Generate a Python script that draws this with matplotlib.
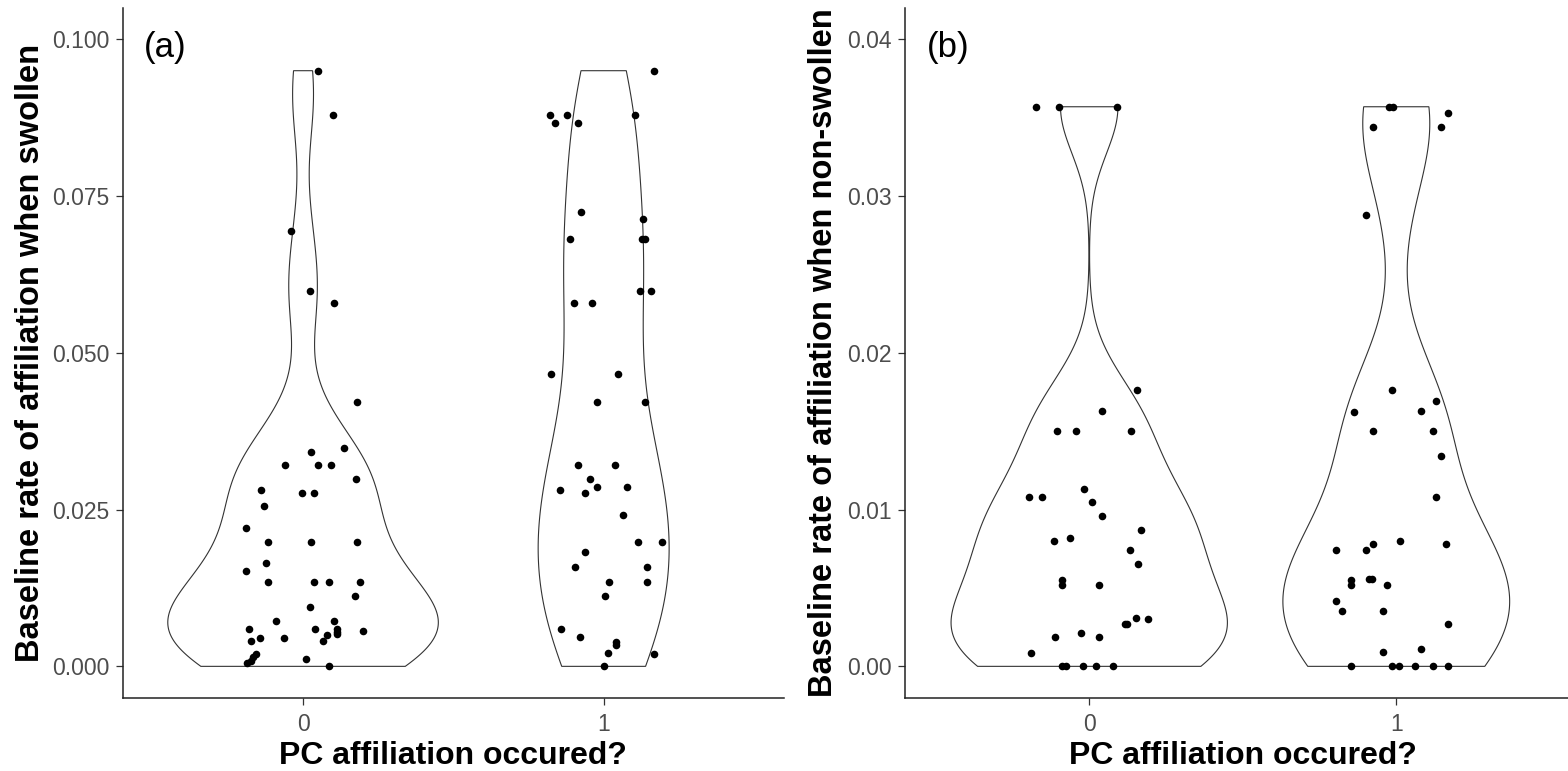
import matplotlib
matplotlib.use("Agg")
import matplotlib.pyplot as plt
import numpy as np

plt.rcParams['font.family'] = ['Liberation Sans', 'DejaVu Sans']

# categories on the x axis
groups = ['0', '1']

# (a) swollen: baseline rate values and the horizontal jitter of each dot
swollen_0 = [0.0950, 0.0880, 0.0695, 0.0599, 0.0579, 0.0421, 0.0349, 0.0342, 0.0321, 0.0321,
             0.0321, 0.0299, 0.0282, 0.0277, 0.0277, 0.0256, 0.0221, 0.0199, 0.0199, 0.0199,
             0.0165, 0.0152, 0.0134, 0.0134, 0.0134, 0.0134, 0.0112, 0.0095, 0.0073, 0.0073,
             0.0060, 0.0060, 0.0060, 0.0054, 0.0051, 0.0056, 0.0045, 0.0045, 0.0050, 0.0041,
             0.0041, 0.0019, 0.0015, 0.0008, 0.0006, 0.0011, 0.0000]
swollen_0_jit = [0.051, 0.099, -0.041, 0.022, 0.104, 0.180, 0.135, 0.028, -0.059, 0.051,
                 0.094, 0.176, -0.140, -0.004, 0.036, -0.131, -0.189, -0.117, 0.028, 0.180,
                 -0.122, -0.189, -0.117, 0.036, 0.085, 0.189, 0.172, 0.022, -0.091, 0.104,
                 -0.180, 0.041, 0.112, 0.114, 0.114, 0.199, -0.144, -0.063, 0.081, -0.172,
                 0.067, -0.158, -0.167, -0.172, -0.185, 0.009, 0.085]
swollen_1 = [0.0950, 0.0880, 0.0880, 0.0880, 0.0867, 0.0867, 0.0725, 0.0714, 0.0682, 0.0682,
             0.0682, 0.0599, 0.0599, 0.0579, 0.0579, 0.0466, 0.0466, 0.0421, 0.0421, 0.0321,
             0.0321, 0.0299, 0.0282, 0.0286, 0.0286, 0.0277, 0.0241, 0.0199, 0.0199, 0.0182,
             0.0158, 0.0158, 0.0134, 0.0134, 0.0112, 0.0060, 0.0047, 0.0039, 0.0034, 0.0021,
             0.0019, 0.0000]
swollen_1_jit = [0.168, -0.179, -0.122, 0.104, -0.161, -0.085, -0.076, 0.131, -0.113, 0.126,
                 0.138, 0.122, 0.158, -0.098, -0.040, -0.175, 0.047, -0.021, 0.136, -0.085,
                 0.037, -0.044, -0.144, -0.021, 0.079, -0.063, 0.063, 0.113, 0.195, -0.063,
                 -0.094, 0.145, 0.019, 0.145, 0.006, -0.143, -0.080, 0.041, 0.041, 0.015,
                 0.168, 0.001]

# (b) non-swollen
nonswollen_0 = [0.0357, 0.0357, 0.0357, 0.0176, 0.0163, 0.0150, 0.0150, 0.0150, 0.0113, 0.0108,
                0.0108, 0.0105, 0.0096, 0.0087, 0.0082, 0.0080, 0.0074, 0.0065, 0.0055, 0.0052,
                0.0052, 0.0031, 0.0030, 0.0027, 0.0027, 0.0021, 0.0019, 0.0019, 0.00085, 0.0,
                0.0, 0.0, 0.0, 0.0]
nonswollen_0_jit = [-0.173, -0.098, 0.090, 0.155, 0.040, -0.106, -0.044, 0.137, -0.018, -0.195,
                    -0.154, 0.009, 0.040, 0.167, -0.062, -0.115, 0.133, 0.160, -0.089, -0.089,
                    0.032, 0.151, 0.190, 0.115, 0.124, -0.027, -0.111, 0.032, -0.190, -0.089,
                    -0.076, -0.021, 0.022, 0.079]
nonswollen_1 = [0.0357, 0.0357, 0.0353, 0.0344, 0.0344, 0.0288, 0.0176, 0.0169, 0.0162, 0.0163,
                0.0150, 0.0150, 0.0134, 0.0108, 0.0074, 0.0074, 0.0078, 0.0080, 0.0078, 0.0055,
                0.0052, 0.0056, 0.0056, 0.0052, 0.0042, 0.0035, 0.0035, 0.0027, 0.0011, 0.0009,
                0.0, 0.0, 0.0, 0.0, 0.0, 0.0]
nonswollen_1_jit = [-0.024, -0.011, 0.167, -0.076, 0.146, -0.098, -0.014, 0.128, -0.138, 0.079,
                    -0.076, 0.120, 0.146, 0.128, -0.195, -0.098, -0.076, 0.012, 0.163, -0.147,
                    -0.147, -0.089, -0.080, -0.031, -0.195, -0.177, -0.044, 0.167, 0.079, -0.044,
                    -0.147, -0.014, 0.009, 0.062, 0.120, 0.167]

ticks_a = [0, 0.025, 0.05, 0.075, 0.1]
ticklabels_a = ['0.000', '0.025', '0.050', '0.075', '0.100']
ticks_b = [0, 0.01, 0.02, 0.03, 0.04]
ticklabels_b = ['0.00', '0.01', '0.02', '0.03', '0.04']


def kde(vals, n=512):
    # gaussian density with R's bw.nrd0, trimmed to the data range
    v = np.asarray(vals, dtype=float)
    sd = v.std(ddof=1)
    q75, q25 = np.percentile(v, [75, 25])
    bw = 0.9 * min(sd, (q75 - q25) / 1.34) * len(v) ** -0.2
    grid = np.linspace(v.min(), v.max(), n)
    z = (grid[:, None] - v[None, :]) / bw
    dens = np.exp(-0.5 * z ** 2).sum(axis=1) / (len(v) * bw * np.sqrt(2 * np.pi))
    return grid, dens


def panel(ax, data, jitters, ticks, ticklabels, ylabel, tag, ylab_x):
    profiles = [kde(d) for d in data]
    dmax = max(p[1].max() for p in profiles)
    for pos, (grid, dens) in enumerate(profiles):
        half = 0.45 * dens / dmax
        xs = np.concatenate([pos - half, (pos + half)[::-1], [pos - half[0]]])
        ys = np.concatenate([grid, grid[::-1], [grid[0]]])
        ax.fill(xs, ys, facecolor='white', edgecolor='#333333', lw=0.8, zorder=1)
    for pos, (d, j) in enumerate(zip(data, jitters)):
        ax.scatter(pos + np.asarray(j), d, s=30, c='black', linewidths=0, zorder=3)

    ax.set_xlim(-0.6, 1.6)
    lo, hi = ticks[0], ticks[-1]
    pad = 0.05 * (hi - lo)
    ax.set_ylim(lo - pad, hi + pad)
    ax.set_xticks(range(len(groups)))
    ax.set_xticklabels(groups)
    ax.set_yticks(ticks)
    ax.set_yticklabels(ticklabels)
    ax.tick_params(axis='both', colors='#333333', labelcolor='#4D4D4D',
                   labelsize=16.5, length=5, width=0.9)
    ax.tick_params(axis='y', pad=4.5)
    ax.tick_params(axis='x', pad=6)
    for s in ['top', 'right']:
        ax.spines[s].set_visible(False)
    for s in ['left', 'bottom']:
        ax.spines[s].set_color('#222222')
        ax.spines[s].set_linewidth(1.1)

    ax.set_xlabel('PC affiliation occured?', fontsize=23, fontweight='bold')
    ax.xaxis.set_label_coords(0.5, -0.096)
    ax.xaxis.label.set_va('baseline')
    ax.set_ylabel(ylabel, fontsize=23.5, fontweight='bold')
    ax.yaxis.set_label_coords(ylab_x, 0.5)
    ax.yaxis.label.set_va('center')
    ax.text(0.032, 0.943, tag, transform=ax.transAxes, fontsize=25,
            ha='left', va='center')


fig = plt.figure(figsize=(15.68, 7.71), dpi=100)
ax_a = fig.add_axes([122.7 / 1568, 73.3 / 771, 661.3 / 1568, 689.7 / 771])
ax_b = fig.add_axes([905 / 1568, 73.3 / 771, 675.5 / 1568, 689.7 / 771])

panel(ax_a, [swollen_0, swollen_1], [swollen_0_jit, swollen_1_jit], ticks_a, ticklabels_a,
      'Baseline rate of affiliation when swollen', '(a)', -0.1387)
panel(ax_b, [nonswollen_0, nonswollen_1], [nonswollen_0_jit, nonswollen_1_jit], ticks_b,
      ticklabels_b, 'Baseline rate of affiliation when non-swollen', '(b)', -0.12)

fig.savefig('out.png', dpi=100)
